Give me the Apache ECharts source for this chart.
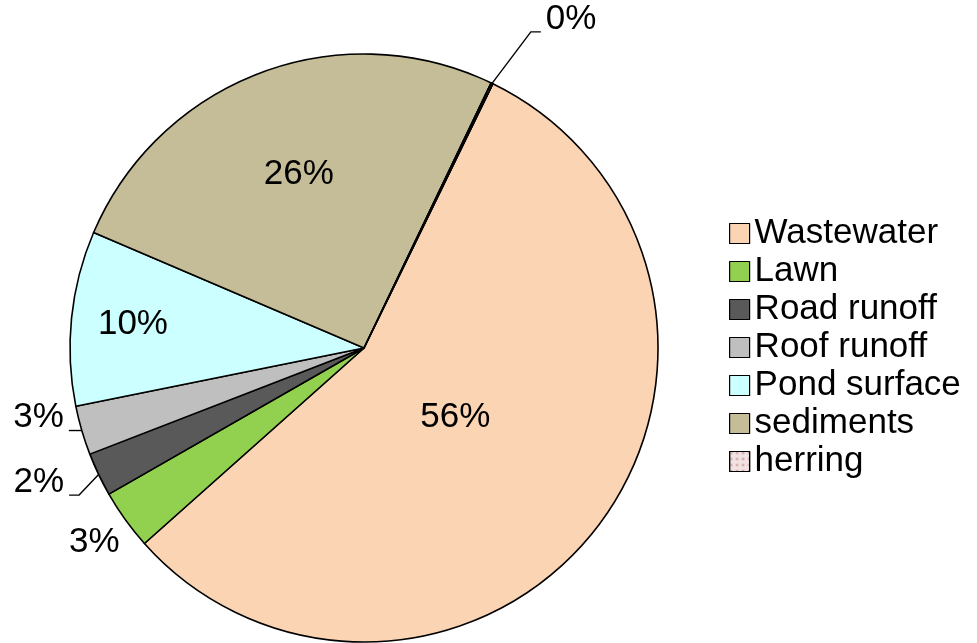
<!DOCTYPE html>
<html>
<head>
<meta charset="utf-8">
<script src="https://cdn.jsdelivr.net/npm/echarts@6/dist/echarts.min.js"></script>
<style>
  html, body { margin: 0; padding: 0; background: #fff; }
  #chart { width: 977px; height: 643px; }
</style>
</head>
<body>
<div id="chart"></div>
<script>
// data (percent shares)
var sources = ['Wastewater', 'Lawn', 'Road runoff', 'Roof runoff', 'Pond surface', 'sediments', 'herring'];
var shares = [56.2, 3.3, 2.4, 2.7, 9.6, 25.7, 0.1];
var colors = ['#FBD4B4', '#92D050', '#595959', '#BFBFBF', '#CCFFFF', '#C4BD97', '#F2E2E2'];

var cx = 364, cy = 348, R = 294;
var startFromTop = 26; // degrees clockwise from 12 o'clock

// label placement per slice: inside ones get a radius fraction, outside ones a leader line
var labelStyle = [
  { inside: 0.39 },
  { bend: [-31, 23], noLine: true },
  { bend: [-19.5, 20.6], tail: -10 },
  { bend: [0, 0], tail: -13 },
  { inside: 0.79 },
  { inside: 0.63 },
  { bend: [38.8, -51.5], tail: 10 }
];

var total = shares.reduce(function (a, b) { return a + b; }, 0);
function midAngle(i) {
  var acc = 0;
  for (var k = 0; k < i; k++) acc += shares[k];
  return (startFromTop + (acc + shares[i] / 2) / total * 360) * Math.PI / 180;
}

var myChart = echarts.init(document.getElementById('chart'));
var font = 'Liberation Sans, Arial, sans-serif';

var option = {
  animation: false,
  color: colors,
  legend: {
    orient: 'vertical',
    left: 729,
    top: 216,
    padding: 0,
    itemWidth: 20,
    itemHeight: 20,
    itemGap: 3,
    icon: 'rect',
    itemStyle: { borderColor: '#000', borderWidth: 1.2 },
    textStyle: { fontSize: 35, fontFamily: font, color: '#000' },
    data: sources
  },
  series: [
    {
      name: 'sources',
      type: 'pie',
      center: [cx, cy],
      radius: R,
      startAngle: 90 - startFromTop,
      clockwise: true,
      avoidLabelOverlap: false,
      itemStyle: { borderColor: '#000', borderWidth: 1.6 },
      label: {
        show: true,
        position: 'outside',
        fontSize: 35,
        fontFamily: font,
        color: '#000',
        formatter: function (p) { return Math.round(p.value / total * 100) + '%'; }
      },
      labelLine: { show: true, length: 10, length2: 10, lineStyle: { color: '#000', width: 1.4 } },
      labelLayout: function (p) {
        var i = p.dataIndex;
        var s = labelStyle[i];
        var a = midAngle(i);
        if (s.inside) {
          return {
            x: cx + R * s.inside * Math.sin(a),
            y: cy - R * s.inside * Math.cos(a),
            align: 'center',
            verticalAlign: 'middle'
          };
        }
        var ex = cx + R * Math.sin(a), ey = cy - R * Math.cos(a);
        var bx = ex + s.bend[0], by = ey + s.bend[1];
        if (s.noLine) {
          return { x: bx, y: by, align: 'center', verticalAlign: 'middle' };
        }
        var tx = bx + s.tail;
        var right = s.tail < 0;
        return {
          x: tx + (right ? -5 : 5),
          y: by - 13,
          align: right ? 'right' : 'left',
          verticalAlign: 'middle',
          labelLinePoints: [[ex, ey], [bx, by], [tx, by]]
        };
      },
      data: sources.map(function (name, i) {
        var item = { name: name, value: shares[i] };
        if (labelStyle[i].inside || labelStyle[i].noLine) {
          item.labelLine = { show: false };
        }
        if (name === 'herring') {
          item.itemStyle = {
            decal: { symbol: 'circle', symbolSize: 0.8, color: 'rgba(180,130,130,0.7)', dashArrayX: [3, 3], dashArrayY: [3, 3] }
          };
        }
        return item;
      })
    }
  ]
};

option && myChart.setOption(option);
</script>
</body>
</html>
